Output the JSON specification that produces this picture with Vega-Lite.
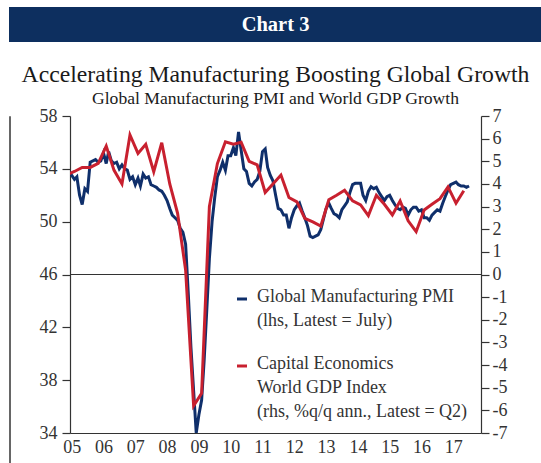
{
  "$schema": "https://vega.github.io/schema/vega-lite/v6.json",
  "background": "white",
  "padding": {"left": 8, "top": 7, "right": 0, "bottom": 0},
  "config": {
    "view": {"stroke": null},
    "font": "Liberation Serif",
    "style": {"guide-label": {"lineHeight": 24}}
  },
  "datasets": {
    "pmi": [
      {"date": "2004-12-01", "v": 53.8},
      {"date": "2005-01-01", "v": 53.5}, {"date": "2005-02-01", "v": 53.2}, {"date": "2005-03-01", "v": 53.4}, {"date": "2005-04-01", "v": 52.0}, {"date": "2005-05-01", "v": 51.3}, {"date": "2005-06-01", "v": 52.5}, {"date": "2005-07-01", "v": 52.3}, {"date": "2005-08-01", "v": 54.5}, {"date": "2005-09-01", "v": 54.6}, {"date": "2005-10-01", "v": 54.7}, {"date": "2005-11-01", "v": 54.5}, {"date": "2005-12-01", "v": 54.6},
      {"date": "2006-01-01", "v": 55.2}, {"date": "2006-02-01", "v": 54.4}, {"date": "2006-03-01", "v": 55.3}, {"date": "2006-04-01", "v": 54.6}, {"date": "2006-05-01", "v": 54.4}, {"date": "2006-06-01", "v": 54.5}, {"date": "2006-07-01", "v": 54.0}, {"date": "2006-08-01", "v": 54.3}, {"date": "2006-09-01", "v": 54.0}, {"date": "2006-10-01", "v": 53.9}, {"date": "2006-11-01", "v": 53.2}, {"date": "2006-12-01", "v": 53.4},
      {"date": "2007-01-01", "v": 52.8}, {"date": "2007-02-01", "v": 53.3}, {"date": "2007-03-01", "v": 52.7}, {"date": "2007-04-01", "v": 53.6}, {"date": "2007-05-01", "v": 53.3}, {"date": "2007-06-01", "v": 53.4}, {"date": "2007-07-01", "v": 52.8}, {"date": "2007-08-01", "v": 52.7}, {"date": "2007-09-01", "v": 52.6}, {"date": "2007-10-01", "v": 52.4}, {"date": "2007-11-01", "v": 52.3}, {"date": "2007-12-01", "v": 52.0},
      {"date": "2008-01-01", "v": 51.6}, {"date": "2008-02-01", "v": 51.0}, {"date": "2008-03-01", "v": 50.5}, {"date": "2008-04-01", "v": 50.3}, {"date": "2008-05-01", "v": 50.1}, {"date": "2008-06-01", "v": 49.5}, {"date": "2008-07-01", "v": 49.2}, {"date": "2008-08-01", "v": 48.3}, {"date": "2008-09-01", "v": 44.5}, {"date": "2008-10-01", "v": 40.5}, {"date": "2008-11-01", "v": 37.2}, {"date": "2008-12-01", "v": 34.0},
      {"date": "2009-01-01", "v": 35.4}, {"date": "2009-02-01", "v": 36.5}, {"date": "2009-03-01", "v": 39.4}, {"date": "2009-04-01", "v": 43.3}, {"date": "2009-05-01", "v": 47.2}, {"date": "2009-06-01", "v": 50.0}, {"date": "2009-07-01", "v": 51.8}, {"date": "2009-08-01", "v": 53.4}, {"date": "2009-09-01", "v": 53.9}, {"date": "2009-10-01", "v": 54.5}, {"date": "2009-11-01", "v": 53.9}, {"date": "2009-12-01", "v": 55.0},
      {"date": "2010-01-01", "v": 55.0}, {"date": "2010-02-01", "v": 55.6}, {"date": "2010-03-01", "v": 55.0}, {"date": "2010-04-01", "v": 56.8}, {"date": "2010-05-01", "v": 55.4}, {"date": "2010-06-01", "v": 54.0}, {"date": "2010-07-01", "v": 53.8}, {"date": "2010-08-01", "v": 52.9}, {"date": "2010-09-01", "v": 52.7}, {"date": "2010-10-01", "v": 53.0}, {"date": "2010-11-01", "v": 53.2}, {"date": "2010-12-01", "v": 53.8},
      {"date": "2011-01-01", "v": 55.3}, {"date": "2011-02-01", "v": 55.5}, {"date": "2011-03-01", "v": 54.1}, {"date": "2011-04-01", "v": 53.5}, {"date": "2011-05-01", "v": 53.1}, {"date": "2011-06-01", "v": 52.0}, {"date": "2011-07-01", "v": 51.0}, {"date": "2011-08-01", "v": 50.9}, {"date": "2011-09-01", "v": 50.5}, {"date": "2011-10-01", "v": 50.5}, {"date": "2011-11-01", "v": 49.5}, {"date": "2011-12-01", "v": 50.3},
      {"date": "2012-01-01", "v": 50.9}, {"date": "2012-02-01", "v": 51.2}, {"date": "2012-03-01", "v": 51.4}, {"date": "2012-04-01", "v": 50.8}, {"date": "2012-05-01", "v": 50.3}, {"date": "2012-06-01", "v": 49.7}, {"date": "2012-07-01", "v": 48.9}, {"date": "2012-08-01", "v": 48.8}, {"date": "2012-09-01", "v": 48.9}, {"date": "2012-10-01", "v": 49.0}, {"date": "2012-11-01", "v": 49.4}, {"date": "2012-12-01", "v": 50.2},
      {"date": "2013-01-01", "v": 51.0}, {"date": "2013-02-01", "v": 51.4}, {"date": "2013-03-01", "v": 51.0}, {"date": "2013-04-01", "v": 50.6}, {"date": "2013-05-01", "v": 50.5}, {"date": "2013-06-01", "v": 50.3}, {"date": "2013-07-01", "v": 50.9}, {"date": "2013-08-01", "v": 51.2}, {"date": "2013-09-01", "v": 51.5}, {"date": "2013-10-01", "v": 52.2}, {"date": "2013-11-01", "v": 52.8}, {"date": "2013-12-01", "v": 52.9},
      {"date": "2014-01-01", "v": 52.9}, {"date": "2014-02-01", "v": 52.9}, {"date": "2014-03-01", "v": 52.0}, {"date": "2014-04-01", "v": 51.6}, {"date": "2014-05-01", "v": 52.3}, {"date": "2014-06-01", "v": 52.65}, {"date": "2014-07-01", "v": 52.5}, {"date": "2014-08-01", "v": 52.6}, {"date": "2014-09-01", "v": 52.2}, {"date": "2014-10-01", "v": 51.9}, {"date": "2014-11-01", "v": 51.6}, {"date": "2014-12-01", "v": 51.9},
      {"date": "2015-01-01", "v": 52.0}, {"date": "2015-02-01", "v": 51.6}, {"date": "2015-03-01", "v": 51.3}, {"date": "2015-04-01", "v": 51.0}, {"date": "2015-05-01", "v": 50.9}, {"date": "2015-06-01", "v": 51.1}, {"date": "2015-07-01", "v": 51.0}, {"date": "2015-08-01", "v": 50.5}, {"date": "2015-09-01", "v": 50.9}, {"date": "2015-10-01", "v": 51.1}, {"date": "2015-11-01", "v": 51.1}, {"date": "2015-12-01", "v": 50.8},
      {"date": "2016-01-01", "v": 50.9}, {"date": "2016-02-01", "v": 50.3}, {"date": "2016-03-01", "v": 50.3}, {"date": "2016-04-01", "v": 50.1}, {"date": "2016-05-01", "v": 50.5}, {"date": "2016-06-01", "v": 50.7}, {"date": "2016-07-01", "v": 50.9}, {"date": "2016-08-01", "v": 50.8}, {"date": "2016-09-01", "v": 51.4}, {"date": "2016-10-01", "v": 51.9}, {"date": "2016-11-01", "v": 52.4}, {"date": "2016-12-01", "v": 52.8},
      {"date": "2017-01-01", "v": 52.9}, {"date": "2017-02-01", "v": 53.0}, {"date": "2017-03-01", "v": 52.8}, {"date": "2017-04-01", "v": 52.7}, {"date": "2017-05-01", "v": 52.7}, {"date": "2017-06-01", "v": 52.6}, {"date": "2017-07-01", "v": 52.7}
    ],
    "gdp": [
      {"date": "2004-11-01", "v": 4.4},
      {"date": "2005-02-01", "v": 4.55}, {"date": "2005-05-01", "v": 4.73}, {"date": "2005-08-01", "v": 4.73}, {"date": "2005-11-01", "v": 4.91},
      {"date": "2006-02-01", "v": 5.67}, {"date": "2006-05-01", "v": 4.61}, {"date": "2006-08-01", "v": 4.0}, {"date": "2006-11-01", "v": 6.16},
      {"date": "2007-02-01", "v": 5.35}, {"date": "2007-05-01", "v": 5.75}, {"date": "2007-08-01", "v": 4.54}, {"date": "2007-11-01", "v": 5.82},
      {"date": "2008-02-01", "v": 4.0}, {"date": "2008-05-01", "v": 2.7}, {"date": "2008-08-01", "v": 0.2}, {"date": "2008-11-01", "v": -5.8},
      {"date": "2009-02-01", "v": -5.25}, {"date": "2009-05-01", "v": 3.0}, {"date": "2009-08-01", "v": 4.9}, {"date": "2009-11-01", "v": 5.86},
      {"date": "2010-02-01", "v": 5.75}, {"date": "2010-05-01", "v": 5.84}, {"date": "2010-08-01", "v": 5.0}, {"date": "2010-11-01", "v": 4.84},
      {"date": "2011-02-01", "v": 3.62}, {"date": "2011-05-01", "v": 4.0}, {"date": "2011-08-01", "v": 4.39}, {"date": "2011-11-01", "v": 3.4},
      {"date": "2012-02-01", "v": 3.21}, {"date": "2012-05-01", "v": 2.48}, {"date": "2012-08-01", "v": 2.32}, {"date": "2012-11-01", "v": 2.14},
      {"date": "2013-02-01", "v": 3.3}, {"date": "2013-05-01", "v": 3.5}, {"date": "2013-08-01", "v": 3.72}, {"date": "2013-11-01", "v": 3.25},
      {"date": "2014-02-01", "v": 3.07}, {"date": "2014-05-01", "v": 2.6}, {"date": "2014-08-01", "v": 3.5}, {"date": "2014-11-01", "v": 3.1},
      {"date": "2015-02-01", "v": 2.63}, {"date": "2015-05-01", "v": 3.25}, {"date": "2015-08-01", "v": 2.37}, {"date": "2015-11-01", "v": 1.89},
      {"date": "2016-02-01", "v": 2.85}, {"date": "2016-05-01", "v": 3.1}, {"date": "2016-08-01", "v": 3.35}, {"date": "2016-11-01", "v": 3.87},
      {"date": "2017-02-01", "v": 3.15}, {"date": "2017-05-01", "v": 3.7}
    ]
  },
  "spacing": 0,
  "vconcat": [
    {
      "width": 533,
      "height": 35,
      "view": {"fill": "#0d2f5f", "stroke": null},
      "data": {"values": [{"label": "Chart 3"}]},
      "mark": {"type": "text", "color": "white", "font": "Liberation Serif", "fontSize": 20.5, "fontWeight": "bold", "baseline": "middle", "align": "center"},
      "encoding": {"text": {"field": "label", "type": "nominal"}}
    },
    {
      "spacing": 10,
      "hconcat": [
        {
          "width": 1,
          "height": 433,
          "view": {"stroke": "#666", "strokeWidth": 1, "fill": null},
          "data": {"values": [{"label": ""}]},
          "mark": {"type": "text"},
          "encoding": {"text": {"field": "label", "type": "nominal"}}
        },
        {
          "width": 411,
          "height": 317,
          "title": {
            "text": ["", "Accelerating Manufacturing Boosting Global Growth"],
            "lineHeight": 20,
            "subtitle": "Global Manufacturing PMI and World GDP Growth",
            "font": "Liberation Serif",
            "fontSize": 23.7,
            "fontWeight": "normal",
            "color": "#1a1a1a",
            "subtitleFont": "Liberation Serif",
            "subtitleFontSize": 17.6,
            "subtitleColor": "#1a1a1a",
            "subtitlePadding": 4,
            "anchor": "middle",
            "frame": "group",
            "offset": -1
          },
          "resolve": {"scale": {"y": "independent"}},
          "layer": [
            {
              "data": {"name": "pmi"},
              "layer": [
                {
                  "mark": {"type": "rule", "color": "#333", "strokeWidth": 1.2},
                  "encoding": {"y": {"datum": 46, "type": "quantitative"}}
                },
                {
                  "mark": {"type": "line", "strokeWidth": 3, "clip": true},
                  "encoding": {
                    "x": {
                      "field": "date", "type": "temporal",
                      "scale": {"type": "utc", "domain": [{"year": 2004, "month": 12, "date": 12, "utc": true}, {"year": 2017, "month": 11, "date": 15, "utc": true}]},
                      "axis": {"title": null, "format": "%y", "tickCount": {"interval": "year", "step": 1}, "ticks": false, "grid": false, "domain": true, "domainColor": "#333", "domainWidth": 1.2, "labelFont": "Liberation Serif", "labelFontSize": 18, "labelColor": "#333", "labelPadding": 5, "labelFlush": false, "labelOverlap": false}
                    },
                    "y": {
                      "field": "v", "type": "quantitative",
                      "scale": {"domain": [34, 58], "nice": false, "zero": false},
                      "axis": {"orient": "left", "title": null, "values": [34, 38, 42, 46, 50, 54, 58], "grid": false, "tickSize": 8, "tickColor": "#333", "tickWidth": 1.2, "domainColor": "#333", "domainWidth": 1.2, "labelFont": "Liberation Serif", "labelFontSize": 18, "labelColor": "#333", "labelPadding": 5, "labelFlush": false}
                    },
                    "color": {
                      "datum": "PMI", "type": "nominal",
                      "scale": {"domain": ["PMI", "GDP"], "range": ["#0f2f6b", "#c8202f"]},
                      "legend": {
                        "orient": "none", "legendX": 224, "legendY": 286, "title": null,
                        "symbolType": "M-1,-0.6H1", "symbolStrokeWidth": 3, "symbolSize": 100,
                        "labelExpr": "datum.value == 'PMI' ? ['Global Manufacturing PMI', '(lhs, Latest = July)'] : ['Capital Economics', 'World GDP Index', '(rhs, %q/q ann., Latest = Q2)']",
                        "labelFont": "Liberation Serif", "labelFontSize": 18, "labelColor": "#333", "labelBaseline": "alphabetic", "labelOffset": 6, "labelLimit": 400, "rowPadding": 25, "padding": 0
                      }
                    }
                  }
                }
              ]
            },
            {
              "data": {"name": "gdp"},
              "mark": {"type": "line", "strokeWidth": 3, "clip": true},
              "encoding": {
                "x": {"field": "date", "type": "temporal"},
                "y": {
                  "field": "v", "type": "quantitative",
                  "scale": {"domain": [-7, 7], "nice": false, "zero": false},
                  "axis": {"orient": "right", "title": null, "values": [-7, -6, -5, -4, -3, -2, -1, 0, 1, 2, 3, 4, 5, 6, 7], "labelExpr": "'' + datum.value", "grid": false, "tickSize": 8, "tickColor": "#333", "tickWidth": 1.2, "domainColor": "#333", "domainWidth": 1.2, "labelFont": "Liberation Serif", "labelFontSize": 18, "labelColor": "#333", "labelPadding": 3, "labelFlush": false}
                },
                "color": {"datum": "GDP", "type": "nominal"}
              }
            }
          ]
        }
      ]
    }
  ]
}
